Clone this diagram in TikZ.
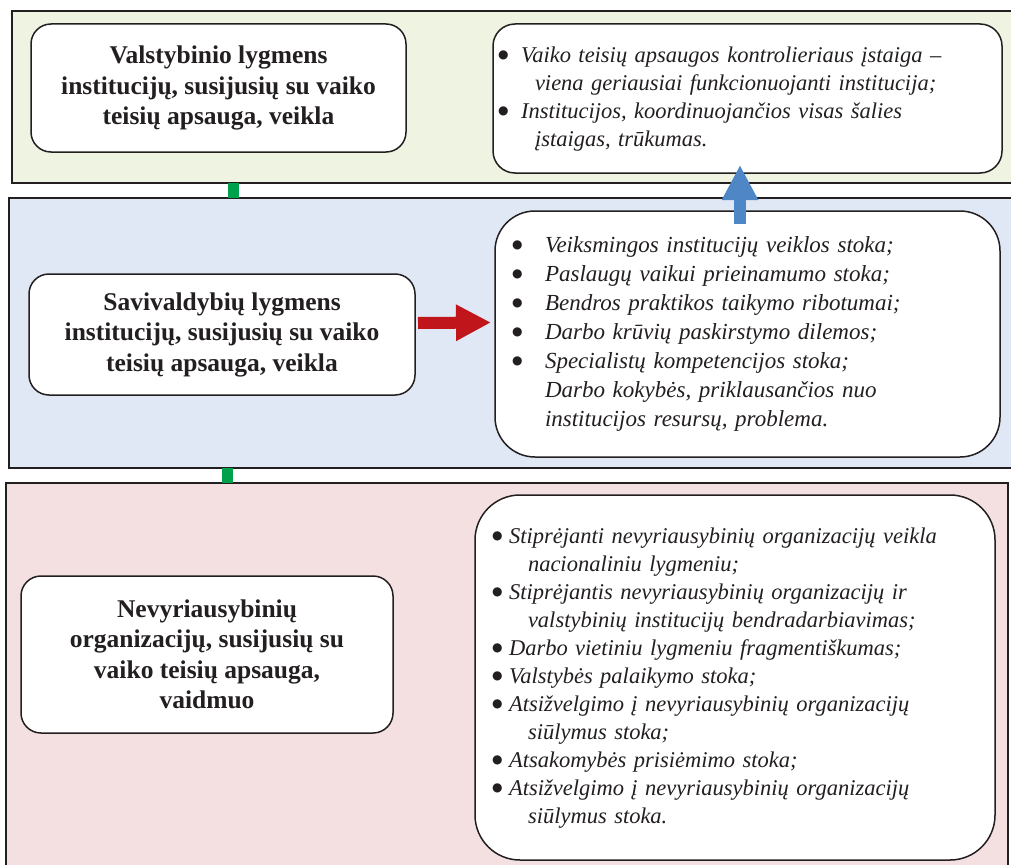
\documentclass[tikz,border=0pt]{standalone}
\usepackage{fontspec}
\setmainfont{Liberation Serif}
\newfontfamily\dotfont{DejaVu Sans}
\usepackage{tikz}
\usetikzlibrary{arrows.meta,calc}

\definecolor{bandgreen}{RGB}{239,243,226}
\definecolor{bandblue}{RGB}{225,232,245}
\definecolor{bandpink}{RGB}{244,224,225}
\definecolor{linkgreen}{RGB}{0,161,75}
\definecolor{arrred}{RGB}{192,22,27}
\definecolor{arrblue}{RGB}{79,134,198}
\definecolor{ink}{RGB}{35,31,32}

\newcommand{\bul}[1]{\makebox[#1][l]{\raisebox{4pt}{\fontsize{12}{12}\dotfont\upshape ●}}}
\newcommand{\titlefont}{\fontsize{25.5}{30.5}\selectfont\bfseries}
\newcommand{\listfont}{\fontsize{22.5}{28}\selectfont\itshape}

\begin{document}
\begin{tikzpicture}[x=1pt,y=-1pt,
  band/.style={draw=ink,line width=2pt,anchor=north west,inner sep=0pt,outer sep=0pt},
  title/.style={draw=ink,fill=white,line width=1.5pt,rounded corners=20pt,align=center,
    font=\titlefont,text=ink,anchor=north west,inner sep=0pt,outer sep=0pt},
  list/.style={draw=ink,fill=white,line width=1.5pt,anchor=north west,align=left,
    font=\listfont,text=ink,inner ysep=0pt,outer sep=0pt},
  link/.style={linkgreen,line width=11pt},
  bigarrow/.style={line width=12pt,-{Triangle[length=35pt,width=34pt]}}]
\useasboundingbox (0,0) rectangle (1011,864);

% three levels
\node[band,fill=bandgreen,minimum width=1010pt,minimum height=172pt] (lvl1) at (12,11) {};
\node[band,fill=bandblue,minimum width=1010pt,minimum height=270pt] (lvl2) at (9,198) {};
\node[band,fill=bandpink,minimum width=1002pt,minimum height=400pt] (lvl3) at (6,483) {};

\draw[link] ($(lvl1.south west)+(221,0)$) -- ($(lvl2.north west)+(224,0)$);
\draw[link] ($(lvl2.south west)+(218,0)$) -- ($(lvl3.north west)+(221,0)$);

% state level
\node[title,minimum width=375pt,minimum height=128pt] (valst) at (31,24)
  {Valstybinio lygmens\\institucijų, susijusių su vaiko\\teisių apsauga, veikla};
\node[list,rounded corners=22pt,inner xsep=5pt,text width=499pt,minimum height=149pt] (valstprob) at (493,24)
  {\noindent\begin{tabular}{@{}l@{}}
  \bul{23pt}Vaiko teisių apsaugos kontrolieriaus įstaiga –\\
  \hspace*{37pt}viena geriausiai funkcionuojanti institucija;\\
  \bul{23pt}Institucijos, koordinuojančios visas šalies\\
  \hspace*{37pt}įstaigas, trūkumas.
  \end{tabular}};

% municipal level
\node[title,minimum width=386pt,minimum height=121pt] (savi) at (29,274)
  {Savivaldybių lygmens\\institucijų, susijusių su vaiko\\teisių apsauga, veikla};
\node[list,rounded corners=40pt,inner xsep=17pt,text width=471pt,minimum height=246pt,
  font=\fontsize{23}{29}\selectfont\itshape] (saviprob) at (495,211)
  {\noindent\begin{tabular}{@{}l@{}}
  \bul{33pt}Veiksmingos institucijų veiklos stoka;\\
  \bul{33pt}Paslaugų vaikui prieinamumo stoka;\\
  \bul{33pt}Bendros praktikos taikymo ribotumai;\\
  \bul{33pt}Darbo krūvių paskirstymo dilemos;\\
  \bul{33pt}Specialistų kompetencijos stoka;\\
  \hspace*{33pt}Darbo kokybės, priklausančios nuo\\
  \hspace*{33pt}institucijos resursų, problema.
  \end{tabular}};

% NGO level
\node[title,minimum width=372pt,minimum height=157pt] (nvo) at (21,576)
  {Nevyriausybinių\\organizacijų, susijusių su\\vaiko teisių apsauga,\\vaidmuo};
\node[list,rounded corners=45pt,inner xsep=17pt,text width=486pt,minimum height=365pt] (nvoprob) at (475,495)
  {\noindent\begin{tabular}{@{}l@{}}
  \bul{17pt}Stiprėjanti nevyriausybinių organizacijų veikla\\
  \hspace*{36pt}nacionaliniu lygmeniu;\\
  \bul{17pt}Stiprėjantis nevyriausybinių organizacijų ir\\
  \hspace*{36pt}valstybinių institucijų bendradarbiavimas;\\
  \bul{17pt}Darbo vietiniu lygmeniu fragmentiškumas;\\
  \bul{17pt}Valstybės palaikymo stoka;\\
  \bul{17pt}Atsižvelgimo į nevyriausybinių organizacijų\\
  \hspace*{36pt}siūlymus stoka;\\
  \bul{17pt}Atsakomybės prisiėmimo stoka;\\
  \bul{17pt}Atsižvelgimo į nevyriausybinių organizacijų\\
  \hspace*{36pt}siūlymus stoka.
  \end{tabular}};

% block arrows
\draw[bigarrow,arrred] ($(savi.east)+(3,-11.5)$) -- ($(saviprob.west)+(-4,-11.5)$);
\draw[bigarrow,arrblue] ($(saviprob.north)+(-7.5,13)$) -- ($(valstprob.south)+(-7.5,-8)$);
\end{tikzpicture}
\end{document}
